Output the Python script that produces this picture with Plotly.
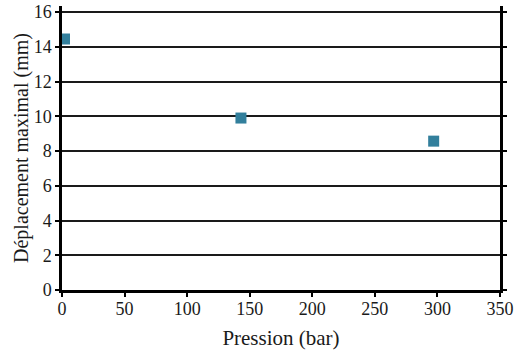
import plotly.graph_objects as go

pression = [2, 143, 297]
deplacement = [14.45, 9.9, 8.57]
x_ticks = [0, 50, 100, 150, 200, 250, 300, 350]
y_ticks = [0, 2, 4, 6, 8, 10, 12, 14, 16]

font_family = "Liberation Serif"

fig = go.Figure()
fig.add_trace(go.Scatter(
    x=pression, y=deplacement, mode="markers",
    marker=dict(symbol="square", size=11, color="#327f9c", line=dict(width=0)),
    cliponaxis=False,
))

fig.update_layout(
    width=520, height=358,
    margin=dict(l=62, r=20, t=6, b=68, autoexpand=False),
    paper_bgcolor="white", plot_bgcolor="white",
    showlegend=False,
    font=dict(family=font_family, size=18, color="#1a1a1a"),
)
fig.update_xaxes(
    range=[0, 350], tickvals=x_ticks, ticktext=[str(v) for v in x_ticks],
    showgrid=False, zeroline=False,
    showline=True, linewidth=2.5, linecolor="black",
    ticks="outside", ticklen=4, tickwidth=1.5, tickcolor="black",
    ticklabelstandoff=-3,
    title=dict(text="Pression (bar)", font=dict(size=21), standoff=12),
    tickfont=dict(size=18),
)
fig.update_yaxes(
    range=[0, 16.35], tickvals=y_ticks, ticktext=[str(v) for v in y_ticks],
    showgrid=True, gridcolor="#1a1a1a", gridwidth=1.5,
    zeroline=False,
    showline=True, linewidth=2.5, linecolor="black", mirror="ticks",
    ticks="outside", ticklen=4, tickwidth=1.5, tickcolor="black",
    title=dict(text="Déplacement maximal (mm)", font=dict(size=20), standoff=0),
    tickfont=dict(size=18),
)

fig.write_html(
    "out.html",
    config={"displayModeBar": False},
    post_script="document.body.style.margin='0';document.body.style.overflow='hidden';",
)
